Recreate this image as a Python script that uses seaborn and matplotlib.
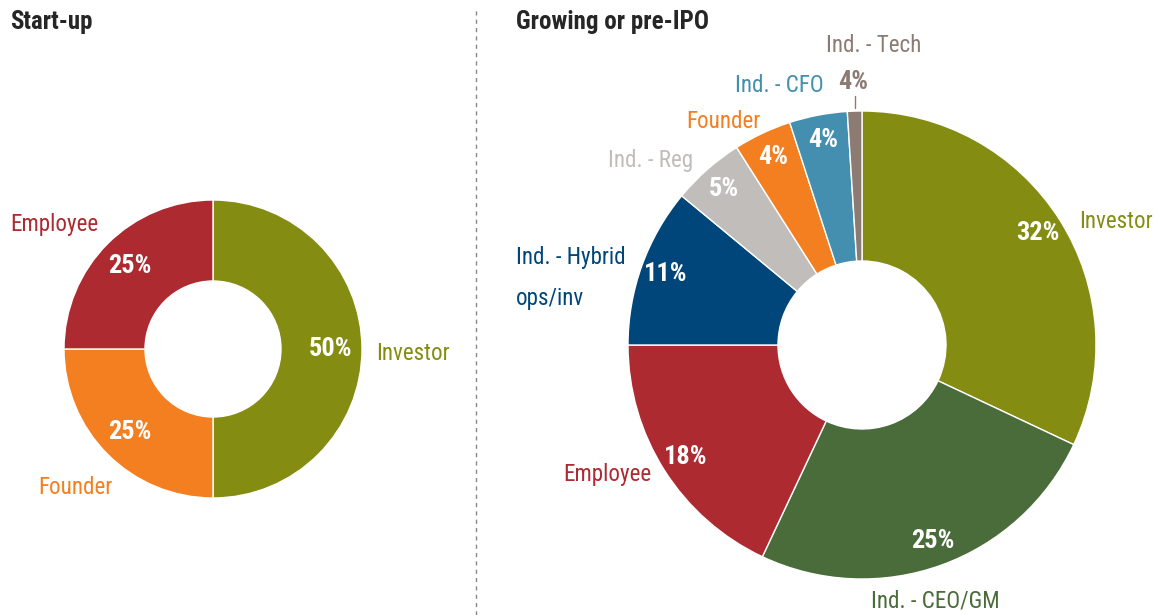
import numpy as np
import pandas as pd
import seaborn as sns
import matplotlib.pyplot as plt
from matplotlib import font_manager as fm

sns.set_style('white')

# start-up
left_names = ['Investor', 'Founder', 'Employee']
left_values = [50, 25, 25]
left_pct = ['50%', '25%', '25%']
left_colors = ['#848C11', '#F47F20', '#AD2A31']

# growing or pre-IPO
right_names = ['Investor', 'Ind. - CEO/GM', 'Employee', 'Ind. - Hybrid\nops/inv',
               'Ind. - Reg', 'Founder', 'Ind. - CFO', 'Ind. - Tech']
right_values = [32, 25, 18, 11, 5, 4, 4, 1]
right_pct = ['32%', '25%', '18%', '11%', '5%', '4%', '4%', '4%']
right_colors = ['#848C11', '#4A6B3A', '#AD2A31', '#00467A',
                '#C0BDBA', '#F47F20', '#448EB0', '#8C7B73']

# pick a narrow font if one is installed, otherwise shrink
fam, scale = 'Roboto', 0.78
for f in ['Liberation Sans Narrow', 'Roboto Condensed', 'DejaVu Sans Condensed',
          'Open Sans Condensed']:
    try:
        fm.findfont(fm.FontProperties(family=f), fallback_to_default=False)
        fam, scale = f, 1.0
        break
    except ValueError:
        pass
plt.rcParams['font.family'] = [fam, 'DejaVu Sans']
LAB = 16.6 * scale
PCT = 19 * scale
TTL = 18 * scale

H = 615
fig = plt.figure(figsize=(11.54, 6.15), dpi=100)
ax = fig.add_axes([0, 0, 1, 1])

def donut(values, pct, colors, center, radius, hole, pctdist):
    wedges, texts = ax.pie(values, colors=colors, center=center, radius=radius,
                           startangle=90, counterclock=False,
                           wedgeprops=dict(width=radius - hole, edgecolor='white', linewidth=1))
    for w, p in zip(wedges, pct):
        ang = np.deg2rad((w.theta1 + w.theta2) / 2)
        x = center[0] + radius * pctdist * np.cos(ang)
        y = center[1] + radius * pctdist * np.sin(ang)
        if w.theta2 - w.theta1 > 5:
            ax.text(x, y, p, color='white', fontsize=PCT, fontweight='bold',
                    ha='center', va='center')
    return wedges

donut(left_values, left_pct, left_colors, (213, H - 349), 149, 68, 0.79)
donut(right_values, right_pct, right_colors, (862, H - 345), 234, 84, 0.89)

# pie() resets the limits, so set them afterwards
ax.set_xlim(0, 1154)
ax.set_ylim(0, H)
ax.set_aspect('equal')
ax.axis('off')

# category labels (pixel layout)
left_pos = [(376, 353, 'left'), (75, 487, 'center'), (98, 224, 'right')]
for name, c, (x, y, ha) in zip(left_names, left_colors, left_pos):
    ax.text(x, H - y, name, color=c, fontsize=LAB, ha=ha, va='center')

right_pos = [(1079, 221, 'left'), (935, 601, 'center'), (607, 474, 'center'),
             (516, 278, 'left'), (651, 160, 'center'), (723, 122, 'center'),
             (779, 86, 'center'), (874, 46, 'center')]
for name, c, (x, y, ha) in zip(right_names, right_colors, right_pos):
    ax.text(x, H - y, name, color=c, fontsize=LAB, ha=ha, va='center', linespacing=2.05)

# small slice label outside
ax.text(853, H - 82, right_pct[-1], color=right_colors[-1], fontsize=PCT,
        fontweight='bold', ha='center', va='center')
ax.plot([855, 855], [H - 96, H - 108], color=right_colors[-1], lw=1)

ax.text(10, H - 22, 'Start-up', fontsize=TTL, fontweight='bold', ha='left', va='center')
ax.text(516, H - 22, 'Growing or pre-IPO', fontsize=TTL, fontweight='bold', ha='left', va='center')

ax.plot([476, 476], [0, H - 10], color='#888888', lw=1, ls=(0, (3, 3)))

fig.savefig('out.png', dpi=100)
